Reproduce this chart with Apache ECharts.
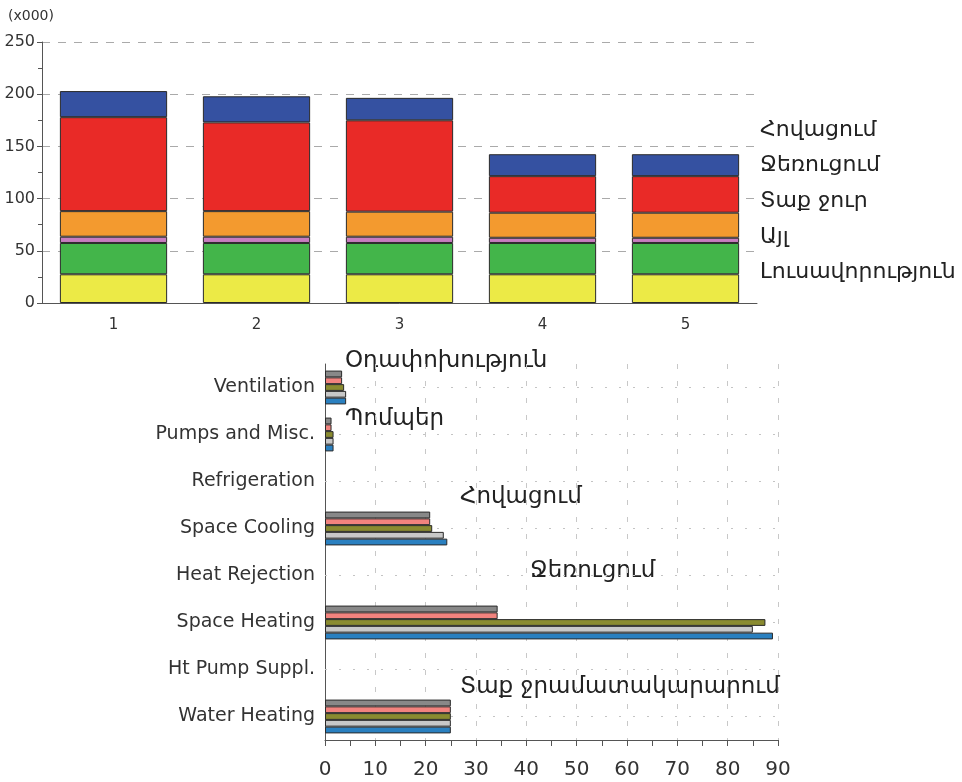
<!DOCTYPE html>
<html>
<head>
<meta charset="utf-8">
<script src="https://cdn.jsdelivr.net/npm/echarts@6/dist/echarts.min.js"></script>
<style>
  html, body { margin: 0; background: #fff; }
  #chart { width: 962px; height: 782px; }
</style>
</head>
<body>
<div id="chart"></div>
<script>
// top chart: annual energy per run, x1000
const runs = ["1", "2", "3", "4", "5"];
const lighting = [27.5, 27.5, 27.5, 27.5, 27.5];
const equipment = [30, 30, 30, 30, 30];
const other = [6, 6, 6, 5, 5];
const hotWater = [24.5, 24.5, 24, 24, 24];
const heating = [90, 85, 87.5, 35, 35];
const cooling = [25, 25, 21.5, 21, 21];
const topLabels = ["Հովացում", "Ջեռուցում", "Տաք ջուր", "Այլ", "Լուսավորություն"];

// bottom chart: end uses per run (null = no bar)
const endUses = ["Ventilation", "Pumps and Misc.", "Refrigeration", "Space Cooling",
  "Heat Rejection", "Space Heating", "Ht Pump Suppl.", "Water Heating"];
const run1 = [4.2, 1.7, null, 24.3, null, 89, null, 25];
const run2 = [4.2, 1.7, null, 23.6, null, 85, null, 25];
const run3 = [3.8, 1.7, null, 21.3, null, 87.5, null, 25];
const run4 = [3.4, 1.3, null, 20.9, null, 34.3, null, 25];
const run5 = [3.4, 1.3, null, 20.9, null, 34.3, null, 25];
const useLabels = ["Օդափոխություն", "Պոմպեր", "Հովացում", "Ջեռուցում", "Տաք ջրամատակարարում"];

const FONT = "DejaVu Sans";
const axisColor = "#555";
const textColor = "#333";

const topSeries = [
  { name: "Լուսավորություն", data: lighting, color: "#ecea46" },
  { name: "Սարքավորումներ", data: equipment, color: "#43b54a" },
  { name: "Այլ", data: other, color: "#c77dbf" },
  { name: "Տաք ջուր", data: hotWater, color: "#f39a2f" },
  { name: "Ջեռուցում", data: heating, color: "#e92a27" },
  { name: "Հովացում", data: cooling, color: "#3551a1" },
].map((s) => ({
  name: s.name,
  type: "bar",
  stack: "total",
  xAxisIndex: 0,
  yAxisIndex: 0,
  barWidth: "75%",
  data: s.data,
  itemStyle: { color: s.color, borderColor: "#2a2a2a", borderWidth: 1 },
}));

// y axis is inverted, so the first series sits on top of each group: run 5 first
const bottomRuns = [
  { name: "Run 5", data: run5, color: "#888888" },
  { name: "Run 4", data: run4, color: "#f2837e" },
  { name: "Run 3", data: run3, color: "#8a8b30" },
  { name: "Run 2", data: run2, color: "#c8c8c8" },
  { name: "Run 1", data: run1, color: "#2a80c0" },
];
const bottomSeries = bottomRuns.map((s) => ({
  name: s.name,
  type: "bar",
  xAxisIndex: 1,
  yAxisIndex: 1,
  barGap: "0%",
  barCategoryGap: "28%",
  data: s.data,
  itemStyle: { color: s.color, borderColor: "#2a2a2a", borderWidth: 1 },
}));

// dotted guide lines through the category centres, kept behind the bars
const guideSeries = {
  type: "line",
  xAxisIndex: 1,
  yAxisIndex: 1,
  data: [],
  z: 1,
  markLine: {
    silent: true,
    z: 1,
    symbol: "none",
    label: { show: false },
    lineStyle: { color: "#c4c4c4", type: [2, 12], width: 1 },
    data: endUses.map((c) => ({ yAxis: c })),
  },
};

const labelPos = [[345, 361], [345, 419], [460, 497], [530, 571], [460, 687]];
const graphics = [
  { type: "text", left: 8, top: 9, style: { text: "(x000)", font: "14px " + FONT, fill: textColor } },
  ...topLabels.map((t, i) => ({
    type: "text", x: 760, y: 130 + i * 35.6,
    style: { text: t, font: "22px " + FONT, fill: "#222", verticalAlign: "middle" },
  })),
  ...useLabels.map((t, i) => ({
    type: "text", x: labelPos[i][0], y: labelPos[i][1],
    style: { text: t, font: "23px " + FONT, fill: "#222", verticalAlign: "middle" },
  })),
];

const chart = echarts.init(document.getElementById("chart"));
chart.setOption({
  animation: false,
  backgroundColor: "#fff",
  textStyle: { fontFamily: FONT },
  grid: [
    { left: 42, right: 205, top: 42, bottom: 479 },
    { left: 325, right: 184, top: 364, bottom: 42 },
  ],
  xAxis: [
    {
      gridIndex: 0,
      type: "category",
      data: runs,
      axisLine: { lineStyle: { color: axisColor } },
      axisTick: { alignWithLabel: true, length: 5, lineStyle: { color: axisColor } },
      axisLabel: { fontSize: 15, color: textColor, margin: 15 },
    },
    {
      gridIndex: 1,
      type: "value",
      min: 0,
      max: 90,
      interval: 10,
      axisLine: { show: true, lineStyle: { color: axisColor } },
      axisTick: { show: true, length: 6, lineStyle: { color: axisColor } },
      minorTick: { show: true, splitNumber: 2, length: 6, lineStyle: { color: axisColor } },
      axisLabel: { fontSize: 20, color: textColor, margin: 20 },
      splitLine: { show: true, lineStyle: { color: "#c8c8c8", type: [5, 12] } },
    },
  ],
  yAxis: [
    {
      gridIndex: 0,
      type: "value",
      min: 0,
      max: 250,
      interval: 50,
      axisLine: { show: true, lineStyle: { color: axisColor } },
      axisTick: { show: true, length: 5, lineStyle: { color: axisColor } },
      minorTick: { show: true, splitNumber: 2, length: 4, lineStyle: { color: axisColor } },
      axisLabel: { fontSize: 16, color: textColor, margin: 7 },
      splitLine: { lineStyle: { color: "#aaa", type: [8, 8] } },
    },
    {
      gridIndex: 1,
      type: "category",
      data: endUses,
      inverse: true,
      axisLine: { lineStyle: { color: axisColor } },
      axisTick: { alignWithLabel: true, length: 5, lineStyle: { color: axisColor } },
      axisLabel: { fontSize: 19, color: textColor, margin: 10 },
      splitLine: { show: false },
    },
  ],
  series: [...topSeries, ...bottomSeries, guideSeries],
  graphic: graphics,
});
</script>
</body>
</html>
